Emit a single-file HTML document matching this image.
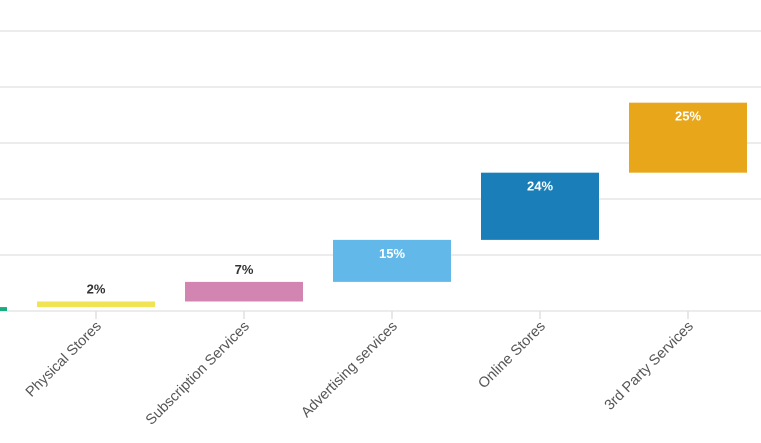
<!DOCTYPE html>
<html><head><meta charset="utf-8"><style>
html,body{margin:0;padding:0;background:#fff;width:761px;height:443px;overflow:hidden}
text{font-family:"Liberation Sans",sans-serif}
</style></head><body>
<svg id="chart" width="761" height="443" xmlns="http://www.w3.org/2000/svg"></svg>
<script>
const categories = ["Other","Physical Stores","Subscription Services","Advertising services","Online Stores","3rd Party Services"];
const values = [1.4, 2, 7, 15, 24, 25];
const valueLabels = ["", "2%", "7%", "15%", "24%", "25%"];
const colors = ["#1aab80","#f0e354","#d185b0","#62b8e9","#1a7fb8","#e8a71a"];
const gridTicks = [0, 20, 40, 60, 80, 100];

const NS = "http://www.w3.org/2000/svg";
const svg = document.getElementById("chart");
const baseY = 311, pxPerUnit = 2.8;
const y = v => baseY - v * pxPerUnit;
const step = 148, firstX = -52, barW = 118;
const x = i => firstX + i * step;

function mk(tag, attrs){const e=document.createElementNS(NS,tag);for(const k in attrs)e.setAttribute(k,attrs[k]);svg.appendChild(e);return e;}

gridTicks.forEach((t,i)=>{
  const g = mk("line",{x1:0,x2:761,y1:y(t),y2:y(t),stroke:"#e6e6e6","stroke-width":1.5});
  
  
});

let cum = 0;
categories.forEach((c,i)=>{
  const v = values[i];
  const top = y(cum+v), bot = y(cum);
  const r = mk("rect",{x:x(i)-barW/2,y:top,width:barW,height:bot-top,fill:colors[i]});
  
  
  cum += v;
  if (valueLabels[i]) {
    const inside = (bot-top) > 30;
    const t = mk("text",{x:x(i),y:inside?top+18:top-8,"text-anchor":"middle","font-size":13,"font-weight":"bold",fill:inside?"#fff":"#333"});
    t.textContent = valueLabels[i];
    
    
  }
  if (i>0) {
    const tk = mk("line",{x1:x(i),x2:x(i),y1:baseY,y2:baseY+8,stroke:"#e0e0e0","stroke-width":1.5});
    
    
    const lx = x(i)+6, ly = baseY+16;
    const l = mk("text",{x:lx,y:ly,"text-anchor":"end","font-size":14.5,fill:"#555",transform:`rotate(-45 ${lx} ${ly})`});
    l.textContent = c;
    
    
  }
});
</script>
</body></html>
